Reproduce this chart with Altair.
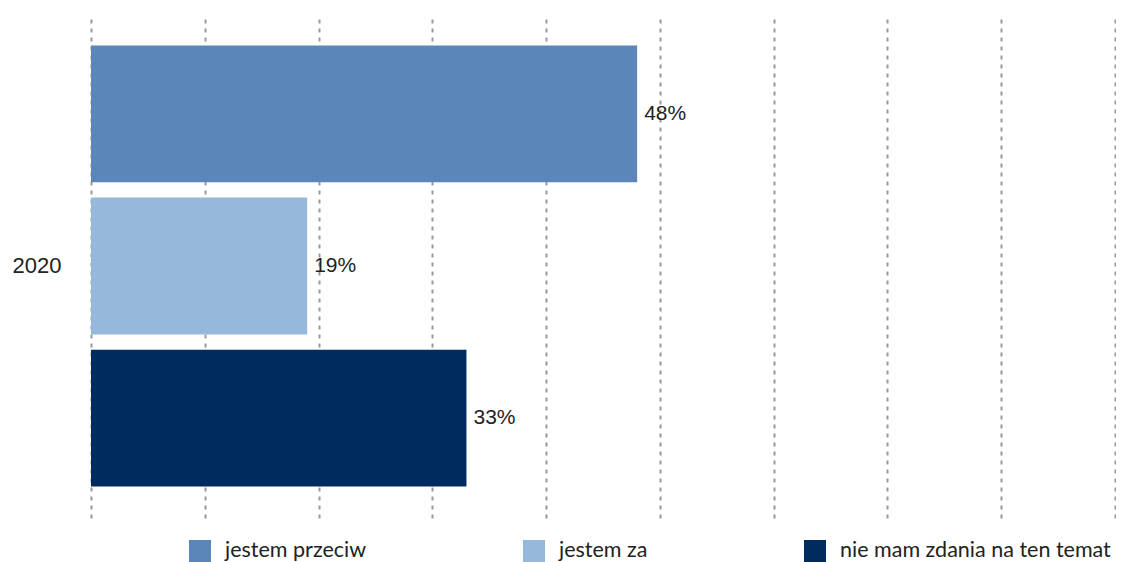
import altair as alt
import pandas as pd

years = ["2020"]
series = ["jestem przeciw", "jestem za", "nie mam zdania na ten temat"]
values = [48, 19, 33]
colors = ["#5b86b9", "#96b8da", "#002b5f"]
grid_ticks = [0, 10, 20, 30, 40, 50, 60, 70, 80, 90]

df = pd.DataFrame({
    "year": [years[0]] * len(series),
    "series": series,
    "value": values,
})

base = alt.Chart(df).transform_calculate(label="datum.value + '%'")

y_enc = alt.Y(
    "year:N",
    title=None,
    scale=alt.Scale(paddingInner=0, paddingOuter=0.0714),
    axis=alt.Axis(domain=False, ticks=False, labelFontSize=22, labelPadding=30,
                  labelColor="#222222", labelFont="Liberation Sans"),
)
yoff = alt.YOffset("series:N", sort=series,
                   scale=alt.Scale(paddingInner=0.1, paddingOuter=0))

bars = base.mark_bar().encode(
    x=alt.X("value:Q", title=None,
            scale=alt.Scale(domain=[0, 90], nice=False, zero=True),
            axis=alt.Axis(values=grid_ticks, labels=False, ticks=False, domain=False,
                          grid=True, gridDash=[4, 5], gridColor="#999999", gridWidth=2)),
    y=y_enc,
    yOffset=yoff,
    color=alt.Color("series:N", sort=series,
                    scale=alt.Scale(domain=series, range=colors),
                    legend=alt.Legend(title=None, orient="none", direction="horizontal",
                                      legendX=98, legendY=526,
                                      symbolType="square", symbolSize=484,
                                      symbolStrokeWidth=0, symbolOpacity=1,
                                      labelFontSize=21.5, labelFont="Lato",
                                      labelColor="#222222", labelOffset=14,
                                      labelLimit=0, columnPadding=156)),
)

labels = base.mark_text(align="left", baseline="middle", dx=7, fontSize=21,
                        font="Liberation Sans", color="#222222").encode(
    x=alt.X("value:Q"),
    y=alt.Y("year:N"),
    yOffset=alt.YOffset("series:N", sort=series),
    text="label:N",
)

chart = (bars + labels).properties(
    width=1024, height=504,
    autosize=alt.AutoSizeParams(type="none"),
    padding={"left": 83, "top": 6, "right": 1, "bottom": 44},
    background="white",
).configure_view(strokeWidth=0, stroke="transparent")

chart.save("out.html", embed_options={"renderer": "svg", "actions": False})
